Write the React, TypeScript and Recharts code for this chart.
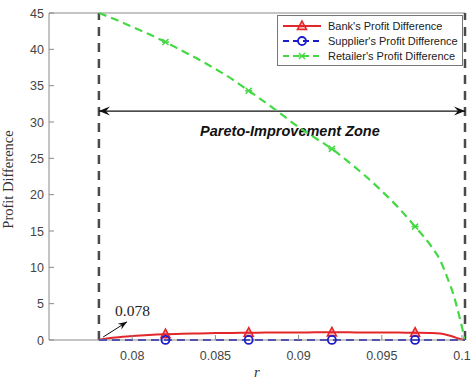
import { LineChart, Line, XAxis, YAxis, ReferenceLine, Legend } from "recharts";

const rValues = [0.078, 0.079, 0.08, 0.081, 0.082, 0.083, 0.084, 0.085, 0.086, 0.087, 0.088, 0.089, 0.09, 0.091, 0.092, 0.093, 0.094, 0.095, 0.096, 0.097, 0.098, 0.0985, 0.099, 0.0993, 0.0996, 0.1];
const bankDiff = [0.05, 0.35, 0.55, 0.7, 0.8, 0.86, 0.91, 0.95, 0.98, 1.0, 1.02, 1.03, 1.04, 1.05, 1.05, 1.05, 1.04, 1.03, 1.02, 1.0, 0.97, 0.9, 0.65, 0.45, 0.2, 0];
const supplierDiff = [0, 0.01, 0.01, 0.01, 0.01, 0.01, 0.01, 0.01, 0.01, 0.01, 0.01, 0.01, 0.01, 0.01, 0.01, 0.01, 0.01, 0.01, 0.01, 0.01, 0.01, 0.01, 0.01, 0.01, 0.01, 0];
const retailerDiff = [45, 44.1, 43.1, 42.1, 41, 39.8, 38.6, 37.3, 35.9, 34.3, 32.7, 31, 29.3, 27.8, 26.3, 24.5, 22.6, 20.5, 18.2, 15.6, 12.8, 11, 8.2, 6.3, 3.8, 0];
const markerAt = [0.082, 0.087, 0.092, 0.097];
const xTicks = [0.078, 0.08, 0.085, 0.09, 0.095, 0.1];
const yTicks = [0, 5, 10, 15, 20, 25, 30, 35, 40, 45];
const rLower = 0.078;
const rUpper = 0.1;
const zoneY = 31.5;

const data = rValues.map((r, i) => ({
  r,
  bank: bankDiff[i],
  supplier: supplierDiff[i],
  retailer: retailerDiff[i],
}));

const RED = "#e3262a";
const BLUE = "#1c1ccf";
const GREEN = "#44d944";
const AXIS = "#8a8a8a";
const TICKTXT = "#444";
const SANS = "Arial, 'Liberation Sans', sans-serif";
const SERIF = "'Times New Roman', 'Liberation Serif', serif";

const isMarked = (r: number) => markerAt.some((m) => Math.abs(m - r) < 1e-6);

const triangle = (cx: number, cy: number, key?: string) => (
  <path key={key} d={`M${cx},${cy - 5} L${cx + 4.5},${cy + 3.5} L${cx - 4.5},${cy + 3.5} Z`} fill="rgba(227,38,42,0.35)" stroke={RED} strokeWidth={1.6} />
);
const circle = (cx: number, cy: number, key?: string) => (
  <circle key={key} cx={cx} cy={cy} r={4} fill="none" stroke={BLUE} strokeWidth={1.8} />
);
const star = (cx: number, cy: number, key?: string) => (
  <g key={key} stroke={GREEN} strokeWidth={1.5}>
    <line x1={cx - 3} y1={cy - 3} x2={cx + 3} y2={cy + 3} />
    <line x1={cx - 3} y1={cy + 3} x2={cx + 3} y2={cy - 3} />
    <line x1={cx - 3.5} y1={cy} x2={cx + 3.5} y2={cy} />
  </g>
);

const makeDot = (draw: typeof triangle) => (props: any) => {
  const { cx, cy, payload, index } = props;
  if (!isMarked(payload.r)) return <g key={`d${index}`} />;
  return draw(cx, cy, `d${index}`);
};

const YTick = (props: any) => {
  const { x, y, payload } = props;
  return (
    <g>
      <text x={x} y={y} dy={4.5} textAnchor="end" fontSize={12.5} fontFamily={SANS} fill={TICKTXT}>
        {payload.value}
      </text>
      <line x1={x + 5} x2={x + 10} y1={y} y2={y} stroke={AXIS} />
    </g>
  );
};

const RightTick = (props: any) => {
  const { x, y } = props;
  return <line x1={x} x2={x - 5} y1={y} y2={y} stroke="#555" />;
};

const XTick = (props: any) => {
  const { x, y, payload } = props;
  if (payload.value === rLower) {
    return (
      <g>
        <text x={x} y={y + 10} textAnchor="middle" fontSize={15} fontStyle="italic" fontFamily={SERIF} fill="#333">
          r
        </text>
        <line x1={x - 4} x2={x + 4} y1={y + 13} y2={y + 13} stroke="#333" strokeWidth={1} />
      </g>
    );
  }
  return (
    <g>
      <text x={x} y={y + 12} textAnchor="middle" fontSize={12.5} fontFamily={SANS} fill={TICKTXT}>
        {payload.value}
      </text>
      <line x1={x} x2={x} y1={y - 8} y2={y - 13} stroke={AXIS} />
    </g>
  );
};

const ZoneArrow = (props: any) => {
  const { x1, y1, x2 } = props;
  const y = y1;
  return (
    <g>
      <line x1={x1} x2={x2} y1={y} y2={y} stroke="#111" strokeWidth={1.2} />
      <path d={`M${x1},${y} L${x1 + 11},${y - 4.5} L${x1 + 7},${y} L${x1 + 11},${y + 4.5} Z`} fill="#111" />
      <path d={`M${x2},${y} L${x2 - 11},${y - 4.5} L${x2 - 7},${y} L${x2 - 11},${y + 4.5} Z`} fill="#111" />
      <text x={(x1 + x2) / 2 + 8} y={y + 25} textAnchor="middle" fontSize={14.5} fontWeight="bold" fontStyle="italic" fontFamily={SANS} fill="#111">
        Pareto-Improvement Zone
      </text>
    </g>
  );
};

const NoteArrow = (props: any) => {
  const { x1, y1, x2, y2 } = props;
  const ang = Math.atan2(y2 - y1, x2 - x1);
  const hx = (d: number, s: number) => x2 - d * Math.cos(ang) + s * Math.sin(ang);
  const hy = (d: number, s: number) => y2 - d * Math.sin(ang) - s * Math.cos(ang);
  return (
    <g>
      <line x1={x1} y1={y1} x2={x2} y2={y2} stroke="#111" strokeWidth={1} />
      <path d={`M${x2},${y2} L${hx(9, 3.5)},${hy(9, 3.5)} L${hx(6, 0)},${hy(6, 0)} L${hx(9, -3.5)},${hy(9, -3.5)} Z`} fill="#111" />
      <text x={x2 - 12} y={y2 - 6} fontSize={15.5} fontFamily={SERIF} fill="#222">
        0.078
      </text>
    </g>
  );
};

const legendItems = [
  { name: "Bank's Profit Difference", color: RED, dash: "", mark: triangle },
  { name: "Supplier's Profit Difference", color: BLUE, dash: "6 4", mark: circle },
  { name: "Retailer's Profit Difference", color: GREEN, dash: "6 4", mark: star },
];

const LegendBox = () => (
  <div style={{ border: "1px solid #777", background: "#fff", width: 186, padding: "2px 0", boxSizing: "border-box" }}>
    {legendItems.map((it) => (
      <div key={it.name} style={{ display: "flex", alignItems: "center", height: 15 }}>
        <svg width={44} height={14} style={{ marginLeft: 3 }}>
          <line x1={2} x2={40} y1={7} y2={7} stroke={it.color} strokeWidth={2} strokeDasharray={it.dash} />
          {it.mark(21, 7)}
        </svg>
        <span style={{ fontFamily: SANS, fontSize: 11, color: "#222", marginLeft: 3, whiteSpace: "nowrap" }}>{it.name}</span>
      </div>
    ))}
  </div>
);

export default function App() {
  return (
    <div style={{ position: "absolute", left: 0, top: 0, width: 472, height: 379, background: "#fff" }}>
      <LineChart width={472} height={379} data={data} margin={{ top: 13, right: 7, bottom: 0, left: 0 }}>
        <XAxis
          dataKey="r"
          type="number"
          domain={[0.075, 0.1]}
          ticks={xTicks}
          allowDataOverflow
          height={39}
          stroke={AXIS}
          tickSize={0}
          tickMargin={8}
          tick={<XTick />}
          label={{ value: "r", position: "insideBottom", offset: 2, fontSize: 15, fontStyle: "italic", fontFamily: SERIF, fill: "#333" }}
        />
        <YAxis
          type="number"
          domain={[0, 45]}
          ticks={yTicks}
          width={49}
          stroke={AXIS}
          tickSize={0}
          tickMargin={5}
          tick={<YTick />}
          label={{ value: "Profit Difference", angle: -90, position: "insideLeft", offset: 8, dy: 3, fontSize: 14.5, fontFamily: SERIF, fill: "#333", style: { textAnchor: "middle" } }}
        />
        <YAxis
          yAxisId="right"
          orientation="right"
          type="number"
          domain={[0, 45]}
          ticks={yTicks}
          width={0}
          axisLine={false}
          tickSize={0}
          tickMargin={0}
          tick={<RightTick />}
        />
        <ReferenceLine y={45} stroke={AXIS} strokeWidth={1} />
        <ReferenceLine x={rLower} stroke="#4a4a4a" strokeWidth={2.5} strokeDasharray="9 7" />
        <ReferenceLine x={rUpper} stroke="#4a4a4a" strokeWidth={2.5} strokeDasharray="9 7" />
        <ReferenceLine segment={[{ x: rLower, y: zoneY }, { x: rUpper, y: zoneY }]} shape={<ZoneArrow />} />
        <ReferenceLine segment={[{ x: 0.07825, y: 0.4 }, { x: 0.07969, y: 2.5 }]} shape={<NoteArrow />} />
        <Line dataKey="retailer" stroke={GREEN} strokeWidth={2.2} strokeDasharray="8 5" dot={makeDot(star)} isAnimationActive={false} type="monotone" />
        <Line dataKey="bank" stroke={RED} strokeWidth={2} dot={makeDot(triangle)} isAnimationActive={false} type="monotone" />
        <Line dataKey="supplier" stroke={BLUE} strokeWidth={2} strokeDasharray="8 5" dot={makeDot(circle)} isAnimationActive={false} type="linear" />
        <Legend layout="vertical" align="center" verticalAlign="middle" wrapperStyle={{ top: 15, left: 277, width: 186 }} content={<LegendBox />} />
      </LineChart>
    </div>
  );
}
